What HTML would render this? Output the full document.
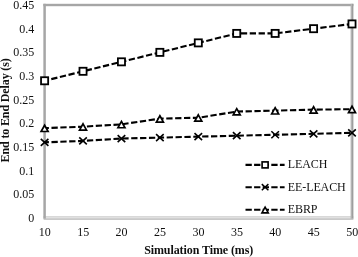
<!DOCTYPE html><html><head><meta charset="utf-8"><style>html,body{margin:0;padding:0;background:#fff}svg{display:block;will-change:transform;opacity:0.999}text{font-family:"Liberation Serif",serif;fill:#111}</style></head><body>
<svg width="358" height="257" viewBox="0 0 358 257">
<rect width="358" height="257" fill="#fff"/>
<rect x="43.35" y="216.4" width="310.05" height="1.15" fill="#bebebe"/>
<rect x="43.35" y="217.55" width="310.05" height="0.95" fill="#e6e6e6"/>
<rect x="43.35" y="3.8" width="2.5" height="214.9" fill="#a6a6a6"/>
<rect x="43.35" y="3.8" width="310.05" height="2.4" fill="#a6a6a6"/>
<rect x="350.6" y="3.8" width="1.4" height="214.9" fill="#b4b4b4"/>
<rect x="352.0" y="3.8" width="1.4" height="214.9" fill="#9e9e9e"/>
<rect x="43.6" y="218.5" width="309.8" height="1.15" fill="#adadad"/>
<text x="34.3" y="222.1" font-size="12" text-anchor="end">0</text>
<text x="34.3" y="198.4" font-size="12" text-anchor="end">0.05</text>
<text x="34.3" y="174.7" font-size="12" text-anchor="end">0.1</text>
<text x="34.3" y="151.1" font-size="12" text-anchor="end">0.15</text>
<text x="34.3" y="127.4" font-size="12" text-anchor="end">0.2</text>
<text x="34.3" y="103.7" font-size="12" text-anchor="end">0.25</text>
<text x="34.3" y="80.0" font-size="12" text-anchor="end">0.3</text>
<text x="34.3" y="56.4" font-size="12" text-anchor="end">0.35</text>
<text x="34.3" y="32.7" font-size="12" text-anchor="end">0.4</text>
<text x="34.3" y="9.0" font-size="12" text-anchor="end">0.45</text>
<text x="44.8" y="235.7" font-size="12" text-anchor="middle">10</text>
<text x="83.2" y="235.7" font-size="12" text-anchor="middle">15</text>
<text x="121.6" y="235.7" font-size="12" text-anchor="middle">20</text>
<text x="160.1" y="235.7" font-size="12" text-anchor="middle">25</text>
<text x="198.5" y="235.7" font-size="12" text-anchor="middle">30</text>
<text x="236.9" y="235.7" font-size="12" text-anchor="middle">35</text>
<text x="275.3" y="235.7" font-size="12" text-anchor="middle">40</text>
<text x="313.8" y="235.7" font-size="12" text-anchor="middle">45</text>
<text x="352.2" y="235.7" font-size="12" text-anchor="middle">50</text>
<text x="144.15" y="253.5" font-size="12" font-weight="bold" letter-spacing="-0.09">Simulation Time (ms)</text>
<text transform="translate(9.1,110.4) rotate(-90)" font-size="12" font-weight="bold" text-anchor="middle" letter-spacing="-0.13">End to End Delay (s)</text>
<polyline points="44.60,80.77 83.03,71.30 121.45,61.83 159.88,52.36 198.30,42.88 236.72,33.41 275.15,33.41 313.57,28.68 352.00,23.94" fill="none" stroke="#000" stroke-width="2.1" stroke-dasharray="6.3 2.57" stroke-dashoffset="2.0"/>
<rect x="41.05" y="77.22" width="7.10" height="7.10" fill="#fff" stroke="#000" stroke-width="1.80"/>
<rect x="79.48" y="67.75" width="7.10" height="7.10" fill="#fff" stroke="#000" stroke-width="1.80"/>
<rect x="117.90" y="58.28" width="7.10" height="7.10" fill="#fff" stroke="#000" stroke-width="1.80"/>
<rect x="156.32" y="48.81" width="7.10" height="7.10" fill="#fff" stroke="#000" stroke-width="1.80"/>
<rect x="194.75" y="39.33" width="7.10" height="7.10" fill="#fff" stroke="#000" stroke-width="1.80"/>
<rect x="233.17" y="29.86" width="7.10" height="7.10" fill="#fff" stroke="#000" stroke-width="1.80"/>
<rect x="271.60" y="29.86" width="7.10" height="7.10" fill="#fff" stroke="#000" stroke-width="1.80"/>
<rect x="310.02" y="25.13" width="7.10" height="7.10" fill="#fff" stroke="#000" stroke-width="1.80"/>
<rect x="348.45" y="20.39" width="7.10" height="7.10" fill="#fff" stroke="#000" stroke-width="1.80"/>
<polyline points="44.60,142.33 83.03,140.91 121.45,138.54 159.88,137.60 198.30,136.65 236.72,135.70 275.15,134.75 313.57,133.81 352.00,132.86" fill="none" stroke="#000" stroke-width="2.1" stroke-dasharray="6.3 2.57" stroke-dashoffset="2.0"/>
<path d="M40.80,138.84 L48.40,145.83 M40.80,145.83 L48.40,138.84" fill="none" stroke="#000" stroke-width="1.60"/>
<path d="M79.23,137.41 L86.83,144.41 M79.23,144.41 L86.83,137.41" fill="none" stroke="#000" stroke-width="1.60"/>
<path d="M117.65,135.05 L125.25,142.04 M117.65,142.04 L125.25,135.05" fill="none" stroke="#000" stroke-width="1.60"/>
<path d="M156.07,134.10 L163.68,141.09 M156.07,141.09 L163.68,134.10" fill="none" stroke="#000" stroke-width="1.60"/>
<path d="M194.50,133.15 L202.10,140.14 M194.50,140.14 L202.10,133.15" fill="none" stroke="#000" stroke-width="1.60"/>
<path d="M232.92,132.21 L240.53,139.20 M232.92,139.20 L240.53,132.21" fill="none" stroke="#000" stroke-width="1.60"/>
<path d="M271.35,131.26 L278.95,138.25 M271.35,138.25 L278.95,131.26" fill="none" stroke="#000" stroke-width="1.60"/>
<path d="M309.77,130.31 L317.38,137.30 M309.77,137.30 L317.38,130.31" fill="none" stroke="#000" stroke-width="1.60"/>
<path d="M348.20,129.36 L355.80,136.36 M348.20,136.36 L355.80,129.36" fill="none" stroke="#000" stroke-width="1.60"/>
<polyline points="44.60,128.12 83.03,126.70 121.45,124.34 159.88,118.65 198.30,117.71 236.72,111.55 275.15,110.60 313.57,109.66 352.00,109.18" fill="none" stroke="#000" stroke-width="2.1" stroke-dasharray="6.3 2.57" stroke-dashoffset="2.0"/>
<path d="M44.60,125.22 L48.10,131.52 L41.10,131.52 Z" fill="#fff" stroke="#000" stroke-width="1.70"/>
<path d="M83.03,123.80 L86.53,130.10 L79.53,130.10 Z" fill="#fff" stroke="#000" stroke-width="1.70"/>
<path d="M121.45,121.44 L124.95,127.74 L117.95,127.74 Z" fill="#fff" stroke="#000" stroke-width="1.70"/>
<path d="M159.88,115.75 L163.38,122.05 L156.38,122.05 Z" fill="#fff" stroke="#000" stroke-width="1.70"/>
<path d="M198.30,114.81 L201.80,121.11 L194.80,121.11 Z" fill="#fff" stroke="#000" stroke-width="1.70"/>
<path d="M236.72,108.65 L240.22,114.95 L233.22,114.95 Z" fill="#fff" stroke="#000" stroke-width="1.70"/>
<path d="M275.15,107.70 L278.65,114.00 L271.65,114.00 Z" fill="#fff" stroke="#000" stroke-width="1.70"/>
<path d="M313.57,106.76 L317.07,113.06 L310.07,113.06 Z" fill="#fff" stroke="#000" stroke-width="1.70"/>
<path d="M352.00,106.28 L355.50,112.58 L348.50,112.58 Z" fill="#fff" stroke="#000" stroke-width="1.70"/>
<line x1="245.5" y1="164.9" x2="284.6" y2="164.9" stroke="#000" stroke-width="2.1" stroke-dasharray="6.3 2.3"/>
<rect x="262.10" y="161.90" width="6.00" height="6.00" fill="#fff" stroke="#000" stroke-width="1.65"/>
<text x="287.8" y="168.45" font-size="12" letter-spacing="-0.1">LEACH</text>
<line x1="245.5" y1="187.2" x2="284.6" y2="187.2" stroke="#000" stroke-width="2.1" stroke-dasharray="6.3 2.3"/>
<path d="M261.80,184.16 L268.40,190.24 M261.80,190.24 L268.40,184.16" fill="none" stroke="#000" stroke-width="1.49"/>
<text x="287.8" y="190.75" font-size="12" letter-spacing="-0.1">EE-LEACH</text>
<line x1="245.5" y1="209.8" x2="284.6" y2="209.8" stroke="#000" stroke-width="2.1" stroke-dasharray="6.3 2.3"/>
<path d="M265.10,207.18 L268.26,212.87 L261.94,212.87 Z" fill="#fff" stroke="#000" stroke-width="1.62"/>
<text x="287.8" y="213.35" font-size="12" letter-spacing="-0.1">EBRP</text>
</svg></body></html>
